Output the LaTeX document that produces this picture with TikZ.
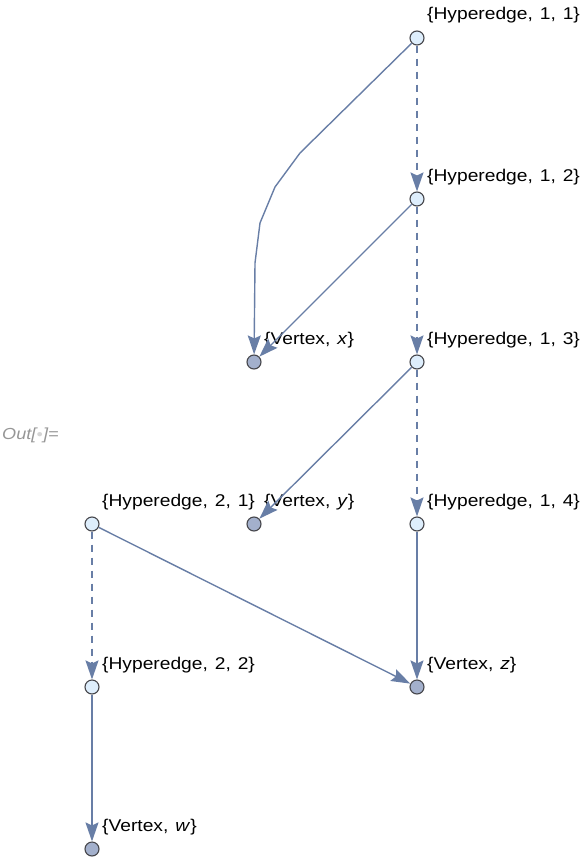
\documentclass[tikz,border=0pt]{standalone}
\usepackage{fontspec}
\setmainfont{Liberation Sans}[FakeStretch=1.13,WordSpace=1.3]
\usetikzlibrary{arrows.meta}
\definecolor{edgec}{RGB}{104,126,166}
\definecolor{hfill}{RGB}{222,238,252}
\definecolor{vfill}{RGB}{163,176,204}
\definecolor{outc}{RGB}{70,70,75}
\definecolor{grayt}{RGB}{150,150,150}
\tikzset{
  hnode/.style={circle,draw=outc,line width=1.1pt,fill=hfill,minimum size=14pt,inner sep=0pt},
  vnode/.style={circle,draw=outc,line width=1.1pt,fill=vfill,minimum size=14pt,inner sep=0pt},
  lab/.style={anchor=base west,font=\fontsize{17}{19}\selectfont,inner sep=0pt},
  edge/.style={draw=edgec,line width=1.4pt,-{Stealth[length=19pt,width=13pt,inset=3pt]}},
  dedge/.style={edge,dash pattern=on 7pt off 6pt},
}
\begin{document}
\begin{tikzpicture}[x=1pt,y=-1pt]
\useasboundingbox (0,0) rectangle (587,864);
% nodes
\node[hnode] (h11) at (417,38) {};
\node[hnode] (h12) at (417,199) {};
\node[vnode] (vx) at (254,362) {};
\node[hnode] (h13) at (417,362) {};
\node[vnode] (vy) at (254,524) {};
\node[hnode] (h14) at (417,524) {};
\node[hnode] (h21) at (92,524) {};
\node[hnode] (h22) at (92,687) {};
\node[vnode] (vz) at (417,687) {};
\node[vnode] (vw) at (92,849) {};
% labels
\node[lab] (l11) at (427,20) {\{Hyperedge, 1, 1\}};
\node[lab] (l12) at (427,181) {\{Hyperedge, 1, 2\}};
\node[lab] (lx) at (264,344) {\{Vertex, \textit{x}\}};
\node[lab] (l13) at (427,344) {\{Hyperedge, 1, 3\}};
\node[lab] (ly) at (264,506) {\{Vertex, \textit{y}\}};
\node[lab] (l14) at (427,506) {\{Hyperedge, 1, 4\}};
\node[lab] (l21) at (102,506) {\{Hyperedge, 2, 1\}};
\node[lab] (l22) at (102,669) {\{Hyperedge, 2, 2\}};
\node[lab] (lz) at (427,669) {\{Vertex, \textit{z}\}};
\node[lab] (lw) at (102,831) {\{Vertex, \textit{w}\}};
\node[anchor=base west,inner sep=0pt,text=grayt,font=\fontsize{16}{18}\selectfont\itshape] (out) at (2,439) {Out[\raisebox{1.5pt}{\textcolor{grayt!40}{\fontsize{10}{10}\selectfont\symbol{"25CF}}}]=};
% edges
\coordinate (c1) at (300,153);
\coordinate (c2) at (275,187);
\coordinate (c3) at (260,223);
\coordinate (c4) at (255,263);
\draw[edge] (h11) -- (c1) -- (c2) -- (c3) -- (c4) -- (vx);
\draw[dedge] (h11) -- (h12);
\draw[dedge] (h12) -- (h13);
\draw[dedge] (h13) -- (h14);
\draw[dedge] (h21) -- (h22);
\draw[edge] (h12) -- (vx);
\draw[edge] (h13) -- (vy);
\draw[edge] (h14) -- (vz);
\draw[edge] (h21) -- (vz);
\draw[edge] (h22) -- (vw);
\end{tikzpicture}
\end{document}
